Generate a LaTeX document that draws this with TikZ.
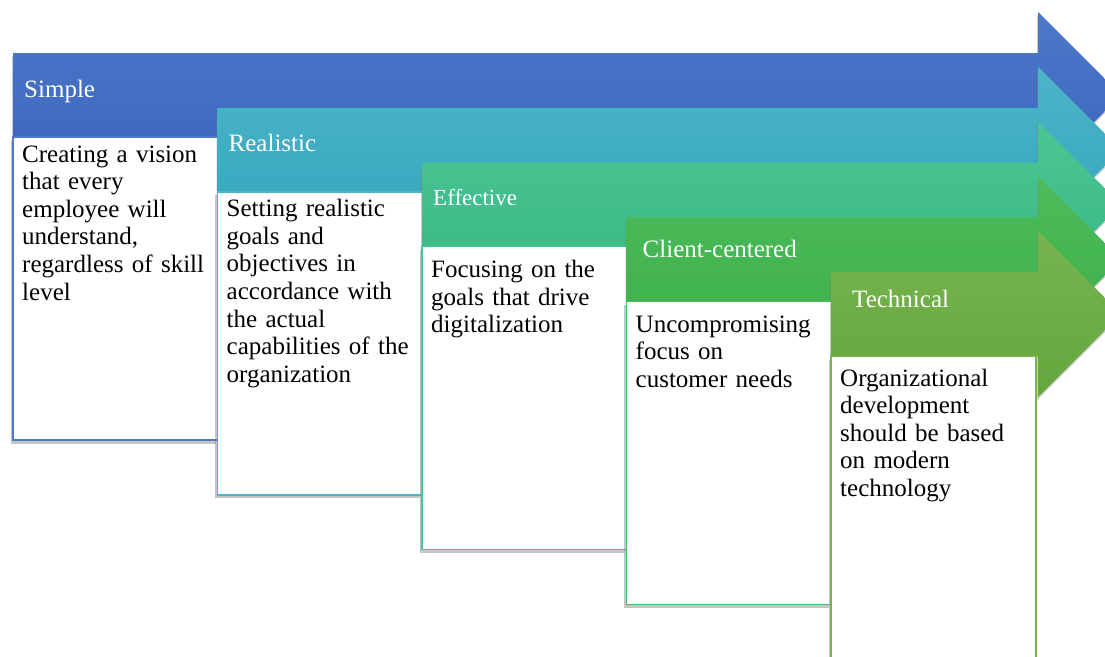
\documentclass[tikz,border=0pt]{standalone}
\usepackage{fontspec}
\setmainfont{Liberation Serif}
\usetikzlibrary{shadows}
\usetikzlibrary{positioning}

\definecolor{top1}{HTML}{4C79C9}
\definecolor{bot1}{HTML}{3A64BD}
\definecolor{top2}{HTML}{4DB4C8}
\definecolor{bot2}{HTML}{34A6BD}
\definecolor{top3}{HTML}{4CC595}
\definecolor{bot3}{HTML}{37B883}
\definecolor{top4}{HTML}{4DBC5B}
\definecolor{bot4}{HTML}{3CAF4B}
\definecolor{top5}{HTML}{77B44E}
\definecolor{bot5}{HTML}{66A63D}

\tikzset{
    stagearrow/.style={drop shadow={shadow xshift=-1pt, shadow yshift=-3pt, opacity=.4}},
    stagebox/.style={draw=#1, line width=1.5pt, fill=white, anchor=north west,
        minimum width=205pt, minimum height=303pt, inner sep=0pt, outer sep=0pt,
        drop shadow={shadow xshift=-2.5pt, shadow yshift=-3.5pt, opacity=.45}},
    stagelabel/.style={anchor=base west, inner sep=0pt, text=white,
        font=\fontsize{25}{30}\selectfont},
    stagetext/.style={anchor=base west, inner sep=0pt, text width=195pt, align=left,
        font=\fontsize{25}{27.6}\selectfont}
}

\begin{document}
\begin{tikzpicture}[x=1pt, y=-1pt]
    \useasboundingbox (0,0) rectangle (1105,656);
    \fill[white] (0,0) rectangle (1105,656);
    \clip (0,0) rectangle (1105,656);
    \foreach \i/\lab/\lx/\lb/\tb/\txt in {
        1/Simple/11/44/25/{Creating a vision\\that every\\employee will\\understand,\\regardless of skill\\level},
        2/Realistic/11/44/25/{Setting realistic\\goals and\\objectives in\\accordance with\\the actual\\capabilities of the\\organization},
        3/{\fontsize{23}{26}\selectfont Effective}/11/43/31/{Focusing on the\\goals that drive\\digitalization},
        4/Client-centered/16/40/31/{Uncompromising\\focus on\\customer needs},
        5/Technical/21/35/30/{Organizational\\development\\should be based\\on modern\\technology}} {
        \pgfmathsetmacro{\x}{13+204.5*(\i-1)}
        \pgfmathsetmacro{\y}{53+54.75*(\i-1)}
        \path[stagearrow, top color=top\i, bottom color=bot\i]
            (\x,\y) -- (1038,\y) -- (1038,\y-41) -- (1121,\y+42)
            -- (1038,\y+125) -- (1038,\y+84) -- (\x,\y+84) -- cycle;
        \node[stagelabel] (lab\i) at (\x+\lx,\y+\lb) {\lab};
        \node[stagebox=top\i] (box\i) at (\x,\y+84) {};
        \node[stagetext] (txt\i) at (\x+9,\y+84+\tb) {\txt};
    }
\end{tikzpicture}
\end{document}
